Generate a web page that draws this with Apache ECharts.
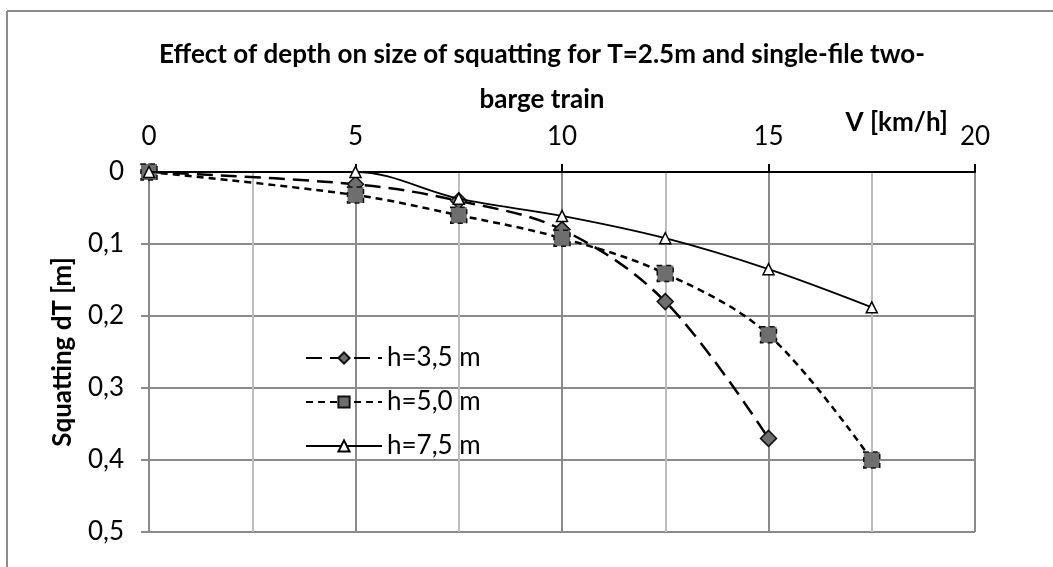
<!DOCTYPE html>
<html>
<head>
<meta charset="utf-8">
<script src="https://cdn.jsdelivr.net/npm/echarts@6/dist/echarts.min.js"></script>
<style>
html,body{margin:0;padding:0;background:#fff;}
#c{width:1053px;height:567px;}
</style>
</head>
<body>
<div id="c"></div>
<script>
const titleLines = ['Effect of depth on size of squatting for T=2.5m and single-file two-', 'barge train'];
const xName = 'V [km/h]';
const yName = 'Squatting dT [m]';
const seriesNames = ['h=3,5 m', 'h=5,0 m', 'h=7,5 m'];
const speedsA = [0, 5, 7.5, 10, 12.5, 15];
const squatA = [0, 0.017, 0.04, 0.08, 0.18, 0.37];
const speedsB = [0, 5, 7.5, 10, 12.5, 15, 17.5];
const squatB = [0, 0.032, 0.06, 0.092, 0.141, 0.226, 0.40];
const speedsC = [0, 5, 7.5, 10, 12.5, 15, 17.5];
const squatC = [0, 0, 0.037, 0.061, 0.092, 0.135, 0.188];

const pair = (xs, ys) => xs.map((x, i) => [x, ys[i]]);
const FONT = 'Lato';
const FS = 26;

const chart = echarts.init(document.getElementById('c'), null, {renderer: 'canvas'});
chart.setOption({
  animation: false,
  backgroundColor: '#fff',
  textStyle: {fontFamily: FONT},
  graphic: [
    {type: 'line', shape: {x1: 7, y1: 11, x2: 1053, y2: 11}, style: {stroke: '#8c8c8c', lineWidth: 2}, silent: true},
    {type: 'line', shape: {x1: 7, y1: 11, x2: 7, y2: 567}, style: {stroke: '#8c8c8c', lineWidth: 2}, silent: true},
    {type: 'text', style: {text: titleLines[0], fontFamily: FONT, fontWeight: 'bold', fontSize: FS, fill: '#000', textAlign: 'center', textVerticalAlign: 'middle', x: 542, y: 55}, silent: true},
    {type: 'text', style: {text: titleLines[1], fontFamily: FONT, fontWeight: 'bold', fontSize: FS, fill: '#000', textAlign: 'center', textVerticalAlign: 'middle', x: 542, y: 100}, silent: true}
  ],
  grid: {left: 149, top: 172, right: 78, bottom: 35, containLabel: false},
  legend: {
    orient: 'vertical',
    left: 300, top: 340,
    itemWidth: 76, itemHeight: 14,
    itemGap: 18,
    textStyle: {fontFamily: FONT, fontSize: FS, color: '#000', padding: [0,0,0,0]},
    data: seriesNames
  },
  xAxis: {
    type: 'value', position: 'top', min: 0, max: 20, interval: 5,
    name: xName, nameLocation: 'end',
    nameGap: 0,
    nameTextStyle: {fontFamily: FONT, fontWeight: 'bold', fontSize: FS, color: '#000', align: 'right', verticalAlign: 'bottom', padding: [0, 27, 36, 0]},
    axisLine: {show: true, lineStyle: {color: '#000', width: 2}},
    axisTick: {show: true, inside: false, length: 8, lineStyle: {color: '#000', width: 2}},
    axisLabel: {fontFamily: FONT, fontSize: FS, color: '#000', margin: 22},
    splitLine: {show: true, lineStyle: {color: '#8a8a8a', width: 2}},
    minorTick: {show: false, splitNumber: 2},
    minorSplitLine: {show: true, lineStyle: {color: '#bdbdbd', width: 2}}
  },
  yAxis: {
    type: 'value', inverse: true, min: 0, max: 0.5, interval: 0.1,
    name: yName, nameLocation: 'middle', nameGap: 73,
    nameTextStyle: {fontFamily: FONT, fontWeight: 'bold', fontSize: FS, color: '#000'},
    axisLine: {show: true, lineStyle: {color: '#8a8a8a', width: 2}},
    axisTick: {show: true, length: 8, lineStyle: {color: '#8a8a8a', width: 2}},
    axisLabel: {fontFamily: FONT, fontSize: FS, color: '#000', margin: 25,
      formatter: v => String(Math.round(v * 10) / 10).replace('.', ',')},
    splitLine: {show: true, lineStyle: {color: '#8a8a8a', width: 2}}
  },
  series: [
    {
      name: seriesNames[0], type: 'line', smooth: 0.35, data: pair(speedsA, squatA),
      symbol: 'diamond', symbolSize: 16,
      lineStyle: {color: '#000', width: 2.5, type: [16, 8]},
      itemStyle: {color: '#6e6e6e', borderColor: '#111', borderWidth: 1.5},
      z: 2
    },
    {
      name: seriesNames[1], type: 'line', smooth: 0.35, data: pair(speedsB, squatB),
      symbol: 'rect', symbolSize: 16,
      lineStyle: {color: '#000', width: 2.5, type: [7, 5]},
      itemStyle: {color: '#6e6e6e', borderColor: '#111', borderWidth: 1.5, borderType: [5, 4]},
      z: 3
    },
    {
      name: seriesNames[2], type: 'line', smooth: 0.35, data: pair(speedsC, squatC),
      symbol: 'triangle', symbolSize: 11,
      lineStyle: {color: '#000', width: 1.8, type: 'solid'},
      itemStyle: {color: '#fff', borderColor: '#000', borderWidth: 1.5},
      z: 4
    }
  ]
});
</script>
</body>
</html>
